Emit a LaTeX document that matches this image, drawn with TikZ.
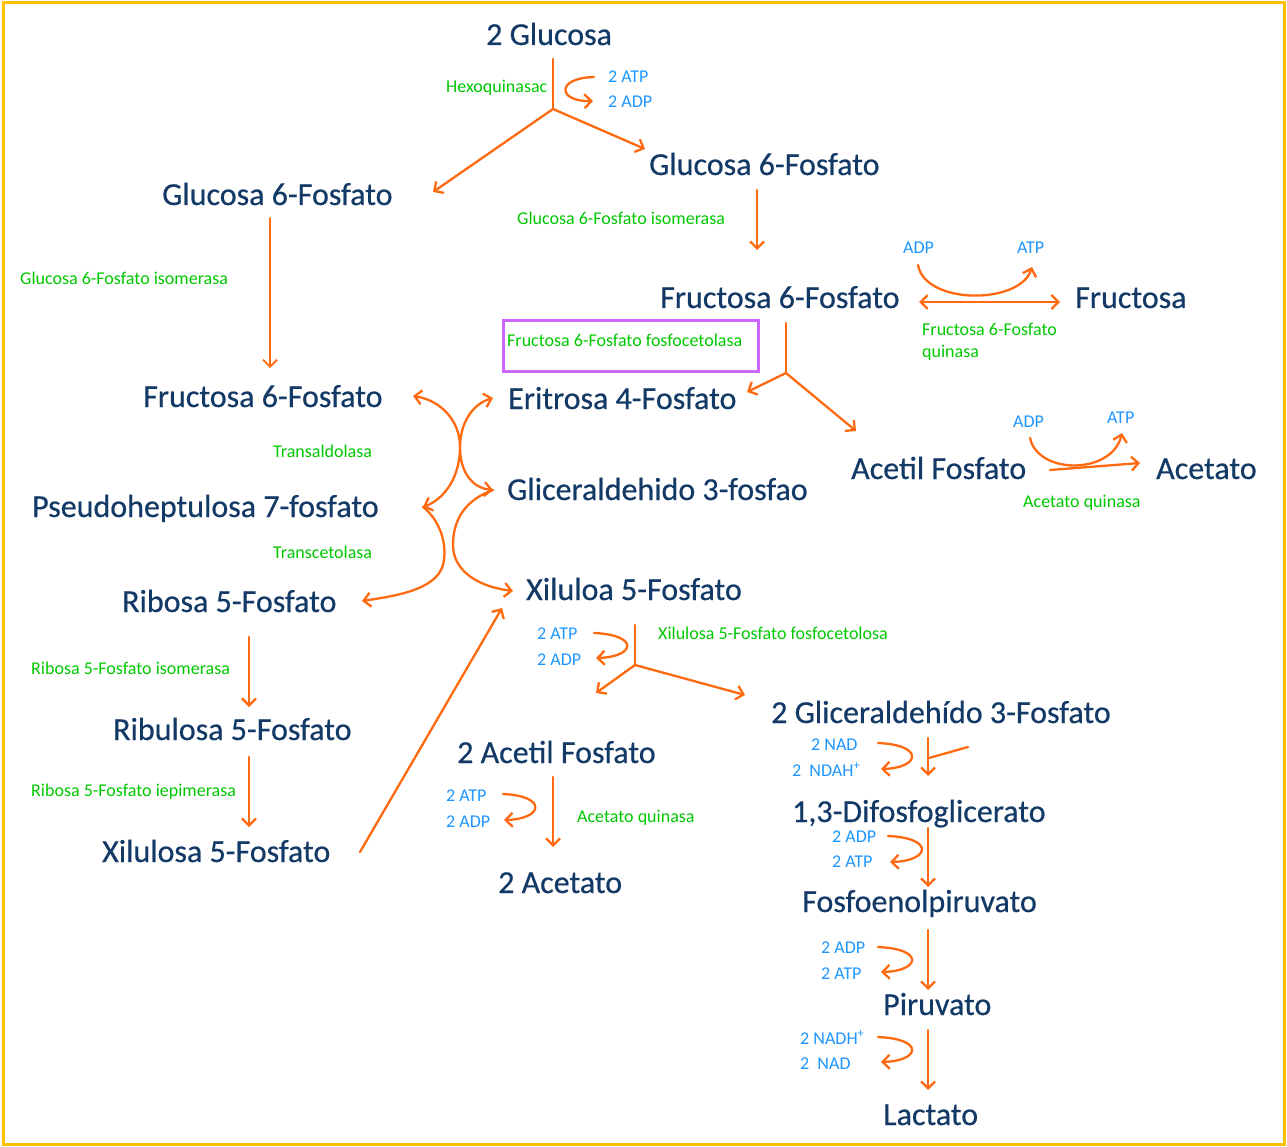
\documentclass[tikz,border=0pt]{standalone}
\usepackage{fontspec}
\setmainfont{Carlito}
\newfontfamily\metfont[FakeBold=0.5]{Carlito}
\usetikzlibrary{arrows.meta}
\definecolor{navy}{HTML}{133A66}
\definecolor{enz}{HTML}{00C800}
\definecolor{cof}{HTML}{1E96FF}
\definecolor{org}{HTML}{FF6A10}
\definecolor{framecol}{HTML}{FFC000}
\definecolor{purp}{HTML}{CC66FF}
\begin{document}
\begin{tikzpicture}[x=1pt,y=-1pt,
 met/.style={text=navy, font=\metfont\fontsize{32}{36}\selectfont, inner sep=0pt, anchor=base west},
 enzl/.style={text=enz, font=\fontsize{18}{22}\selectfont, inner sep=0pt, anchor=base west},
 cofl/.style={text=cof, font=\fontsize{18}{22}\selectfont, inner sep=0pt, anchor=base west},
 link/.style={draw=org, line width=2.3pt, line cap=round, line join=round},
 arr/.style={link, -{Straight Barb[length=7pt,width=14pt]}},
 darr/.style={link, {Straight Barb[length=7pt,width=14pt]}-{Straight Barb[length=7pt,width=14pt]}},
]
\useasboundingbox (0,0) rectangle (1287,1147);
\draw[framecol, line width=3pt] (3,3) rectangle (1284,1144);

% metabolites
\node[met] (glc)   at (486,45)  {2 Glucosa};
\node[met] (g6fr)  at (649,175) {Glucosa 6-Fosfato};
\node[met] (g6fl)  at (162,205) {Glucosa 6-Fosfato};
\node[met] (f6fr)  at (660,308) {Fructosa 6-Fosfato};
\node[met] (fru)   at (1075,308) {Fructosa};
\node[met] (f6fl)  at (143,407) {Fructosa 6-Fosfato};
\node[met] (e4f)   at (508,409) {Eritrosa 4-Fosfato};
\node[met] (acp)   at (851,479) {Acetil Fosfato};
\node[met] (ace)   at (1156,479) {Acetato};
\node[met] (g3p)   at (507,500) {Gliceraldehido 3-fosfao};
\node[met] (s7p)   at (32,517)  {Pseudoheptulosa 7-fosfato};
\node[met] (r5p)   at (122,612) {Ribosa 5-Fosfato};
\node[met] (x5pr)  at (526,600) {Xiluloa 5-Fosfato};
\node[met] (ru5p)  at (113,740) {Ribulosa 5-Fosfato};
\node[met] (x5pl)  at (102,862) {Xilulosa 5-Fosfato};
\node[met] (acp2)  at (457,763) {2 Acetil Fosfato};
\node[met] (ace2)  at (498,893) {2 Acetato};
\node[met] (g3p2)  at (771,723) {2 Gliceraldehído 3-Fosfato};
\node[met] (bpg)   at (792,822) {1,3-Difosfoglicerato};
\node[met] (pep)   at (802,912) {Fosfoenolpiruvato};
\node[met] (pyr)   at (883,1015) {Piruvato};
\node[met] (lac)   at (883,1125) {Lactato};

% enzymes
\node[enzl] (e1) at (446,93)  {Hexoquinasac};
\node[enzl] (e2) at (517,225) {Glucosa 6-Fosfato isomerasa};
\node[enzl] (e3) at (20,285)  {Glucosa 6-Fosfato isomerasa};
\node[enzl] (e4) at (922,335) {Fructosa 6-Fosfato};
\node[enzl] (e4b) at (922,357) {quinasa};
\node[enzl] (e5) at (507,347) {Fructosa 6-Fosfato fosfocetolasa};
\draw[purp, line width=3pt] (503,321) rectangle (758,371);
\node[enzl] (e6) at (273,457) {Transaldolasa};
\node[enzl] (e7) at (273,558) {Transcetolasa};
\node[enzl] (e8) at (1023,507) {Acetato quinasa};
\node[enzl] (e9) at (658,639) {Xilulosa 5-Fosfato fosfocetolosa};
\node[enzl] (e10) at (31,674) {Ribosa 5-Fosfato isomerasa};
\node[enzl] (e11) at (31,796) {Ribosa 5-Fosfato iepimerasa};
\node[enzl] (e12) at (577,822) {Acetato quinasa};

% cofactors
\node[cofl] (c1a) at (608,83)  {2 ATP};
\node[cofl] (c1b) at (608,108) {2 ADP};
\node[cofl] (c2a) at (903,254) {ADP};
\node[cofl] (c2b) at (1017,254) {ATP};
\node[cofl] (c3a) at (1013,427) {ADP};
\node[cofl] (c3b) at (1107,423) {ATP};
\node[cofl] (c4a) at (537,639) {2 ATP};
\node[cofl] (c4b) at (537,665) {2 ADP};
\node[cofl] (c5a) at (446,801) {2 ATP};
\node[cofl] (c5b) at (446,827) {2 ADP};
\node[cofl] (c6a) at (811,750) {2 NAD};
\node[cofl] (c6b) at (792,776) {2~~NDAH\textsuperscript{+}};
\node[cofl] (c7a) at (832,842) {2 ADP};
\node[cofl] (c7b) at (832,867) {2 ATP};
\node[cofl] (c8a) at (821,953) {2 ADP};
\node[cofl] (c8b) at (821,979) {2 ATP};
\node[cofl] (c9a) at (800,1044) {2 NADH\textsuperscript{+}};
\node[cofl] (c9b) at (800,1069) {2~~NAD};

% connector points
\coordinate (glcS) at (553,59);
\coordinate (b1) at (553,109);
\coordinate (g6flT) at (433,192);
\coordinate (g6frT) at (645,149);
\coordinate (g6frS) at (757,190);
\coordinate (f6frT) at (757,250);
\coordinate (g6flS) at (270,218);
\coordinate (f6flT) at (270,368);
\coordinate (f6frE) at (919,302);
\coordinate (fruW) at (1060,302);
\coordinate (f6frS) at (786,323);
\coordinate (b2) at (786,373);
\coordinate (e4fE) at (747,392);
\coordinate (acpT) at (856,431);
\coordinate (acpE) at (1050,470);
\coordinate (aceW) at (1140,463);
\coordinate (f6flE) at (413,396);
\coordinate (e4fW) at (493,398);
\coordinate (g3pW) at (493,490);
\coordinate (s7pE) at (423,507);
\coordinate (r5pE) at (362,601);
\coordinate (x5prW) at (513,591);
\coordinate (x5plE) at (360,852);
\coordinate (x5prSW) at (502,608);
\coordinate (r5pS) at (249,637);
\coordinate (ru5pN) at (249,707);
\coordinate (ru5pS) at (249,757);
\coordinate (x5plN) at (249,827);
\coordinate (x5prS) at (635,625);
\coordinate (b3) at (635,665);
\coordinate (acp2T) at (596,693);
\coordinate (g3p2T) at (745,695);
\coordinate (acp2S) at (553,777);
\coordinate (ace2N) at (553,847);
\coordinate (g3p2S) at (928,738);
\coordinate (bpgN) at (928,776);
\coordinate (pin) at (968,747);
\coordinate (pjoin) at (929,758);
\coordinate (bpgS) at (928,828);
\coordinate (pepN) at (928,887);
\coordinate (pepS) at (928,930);
\coordinate (pyrN) at (928,990);
\coordinate (pyrS) at (928,1030);
\coordinate (lacN) at (928,1090);

% main connectors
\draw[link] (glcS) -- (b1);
\draw[arr] (b1) -- (g6flT);
\draw[arr] (b1) -- (g6frT);
\draw[arr] (g6frS) -- (f6frT);
\draw[arr, line width=1.8pt] (g6flS) -- (f6flT);
\draw[darr] (f6frE) -- (fruW);
\draw[link] (f6frS) -- (b2);
\draw[arr] (b2) -- (e4fE);
\draw[arr] (b2) -- (acpT);
\draw[arr] (acpE) -- (aceW);

% transaldolase / transketolase
\draw[darr] (f6flE) .. controls (440,400) and (460,420) .. (460,447)
  .. controls (460,472) and (472,488) .. (g3pW);
\draw[darr] (e4fW) .. controls (472,404) and (460,424) .. (460,447)
  .. controls (460,480) and (442,500) .. (s7pE);
\draw[arr] (s7pE) .. controls (440,520) and (448,545) .. (443,565)
  .. controls (436,590) and (395,596) .. (r5pE);
\draw[arr] (g3pW) .. controls (465,500) and (453,520) .. (453,545)
  .. controls (453,572) and (480,587) .. (x5prW);

\draw[arr] (x5plE) -- (x5prSW);
\draw[arr] (r5pS) -- (ru5pN);
\draw[arr] (ru5pS) -- (x5plN);

\draw[link] (x5prS) -- (b3);
\draw[arr] (b3) -- (acp2T);
\draw[arr] (b3) -- (g3p2T);
\draw[arr] (acp2S) -- (ace2N);

\draw[arr] (g3p2S) -- (bpgN);
\draw[link] (pin) -- (pjoin);
\draw[arr] (bpgS) -- (pepN);
\draw[arr] (pepS) -- (pyrN);
\draw[arr] (pyrS) -- (lacN);

% cofactor loops
\draw[arr] (594,77) .. controls (555,78) and (558,102) .. (593,101);
\draw[arr] (918,265) .. controls (925,305) and (1020,305) .. (1032,267);
\draw[arr] (1030,438) .. controls (1038,475) and (1112,475) .. (1122,433);
\draw[arr] (594,633) .. controls (640,635) and (635,657) .. (596,658);
\draw[arr] (503,794) .. controls (548,796) and (543,819) .. (504,820);
\draw[arr] (878,743) .. controls (925,745) and (920,768) .. (881,769);
\draw[arr] (888,836) .. controls (935,838) and (930,861) .. (890,862);
\draw[arr] (878,947) .. controls (925,949) and (920,971) .. (881,972);
\draw[arr] (878,1037) .. controls (925,1039) and (920,1061) .. (881,1062);
\end{tikzpicture}
\end{document}
